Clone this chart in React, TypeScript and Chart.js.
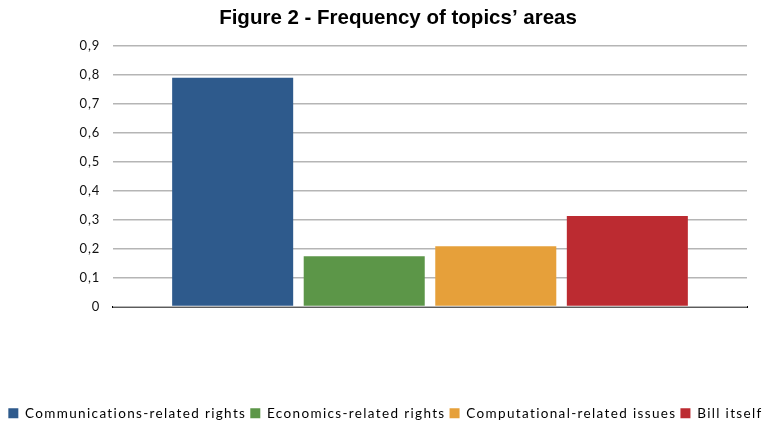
import React, { useEffect, useRef } from "react";
import { Chart, registerables } from "chart.js";

Chart.register(...registerables);

const titleText = "Figure 2 - Frequency of topics’ areas";
const categories = [""];
const seriesNames = [
  "Communications-related rights",
  "Economics-related rights",
  "Computational-related issues",
  "Bill itself",
];
const seriesValues = [0.789, 0.173, 0.208, 0.312];
const seriesColors = ["#2E5A8C", "#5C9648", "#E6A03A", "#BC2B31"];
const yTicks = [0, 0.1, 0.2, 0.3, 0.4, 0.5, 0.6, 0.7, 0.8, 0.9];

function withSpacing(obj: any, names: string[], spacing: string) {
  names.forEach((n) => {
    const orig = obj[n].bind(obj);
    obj[n] = function (...args: any[]) {
      const c = obj.ctx;
      const prev = c.letterSpacing;
      c.letterSpacing = spacing;
      const r = orig(...args);
      c.letterSpacing = prev;
      return r;
    };
  });
}

const patchPlugin = {
  id: "patchPlugin",
  beforeUpdate(chart: any) {
    const lg = chart.legend;
    if (lg && !lg.__patched) {
      lg.__patched = true;
      withSpacing(lg, ["fit", "draw"], "1.35px");
    }
    const yS = chart.scales && chart.scales.y;
    if (yS && !yS.__patched) {
      yS.__patched = true;
      withSpacing(yS, ["draw"], "0.8px");
    }
  },
  afterLayout(chart: any) {
    const t = chart.titleBlock;
    if (t) {
      t.right += 25;
    }
  },
};

export default function App() {
  const ref = useRef<HTMLCanvasElement>(null);
  useEffect(() => {
    if (!ref.current) return;
    const chart = new Chart(ref.current, {
      type: "bar",
      data: {
        labels: categories,
        datasets: seriesNames.map((name, i) => ({
          label: name,
          data: [seriesValues[i]],
          backgroundColor: seriesColors[i],
          borderWidth: 0,
          categoryPercentage: 0.83,
          barPercentage: 0.92,
        })),
      },
      plugins: [patchPlugin],
      options: {
        responsive: false,
        animation: false,
        devicePixelRatio: 1,
        layout: { padding: { left: 0, right: 0, top: 0, bottom: -4 } },
        plugins: {
          title: {
            display: true,
            text: titleText,
            color: "#000",
            font: { family: "'Liberation Sans', Arial", size: 20.5, weight: "bold", lineHeight: 1.2 },
            padding: { top: 6, bottom: 15 },
          },
          legend: {
            display: true,
            position: "bottom",
            align: "center",
            labels: {
              boxWidth: 10,
              boxHeight: 10,
              padding: 4,
              color: "#000",
              font: { family: "Lato, 'Open Sans', sans-serif", size: 13.5 },
            },
          },
          tooltip: { enabled: false },
        },
        scales: {
          x: {
            grid: { display: false, drawTicks: false },
            border: { display: true, color: "#000", width: 2 },
            ticks: { display: false },
            afterFit: (s: any) => {
              s.height = 96;
            },
          },
          y: {
            min: 0,
            max: 0.9,
            afterBuildTicks: (s: any) => {
              s.ticks = yTicks.map((v) => ({ value: v }));
            },
            grid: { color: "#b5b5b5", lineWidth: 1.6, drawTicks: false },
            border: { display: false },
            ticks: {
              padding: 13,
              color: "#111",
              font: { family: "Lato, 'Open Sans', sans-serif", size: 13 },
              callback: (v: any) => (v === 0 ? "0" : Number(v).toFixed(1).replace(".", ",")),
            },
            afterFit: (s: any) => {
              s.width = 113;
            },
          },
          y2: {
            position: "right",
            display: true,
            grid: { display: false, drawTicks: false },
            border: { display: false },
            ticks: { display: false },
            afterFit: (s: any) => {
              s.width = 24;
            },
          },
        },
      },
    });
    return () => chart.destroy();
  }, []);
  return (
    <div style={{ position: "fixed", left: 0, top: 0, width: 771, height: 426, background: "#fff" }}>
      <canvas ref={ref} width={771} height={426} style={{ width: 771, height: 426 }} />
    </div>
  );
}
